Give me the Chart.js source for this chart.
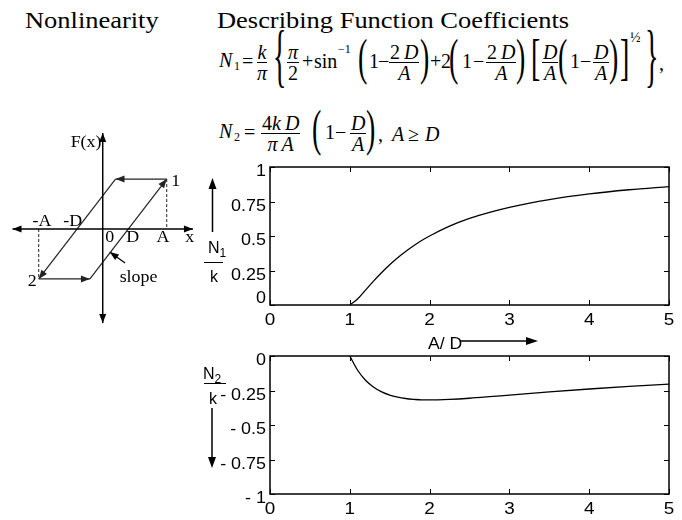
<!DOCTYPE html>
<html>
<head>
<meta charset="utf-8">
<script src="https://cdn.jsdelivr.net/npm/chart.js@4.4.1/dist/chart.umd.min.js"></script>
<style>
  html, body { margin: 0; padding: 0; background: #fff; }
  #page { position: relative; width: 682px; height: 520px; overflow: hidden; font-family: "Liberation Serif", "Times New Roman", serif; color: #000; }
  #page div, #page span { position: absolute; white-space: nowrap; }
  .title { font-size: 23px; line-height: 23px; transform: scaleX(1.15); transform-origin: left top; }
  .t { font-size: 20px; line-height: 20px; }
  .sm { font-size: 12px; line-height: 12px; }
  .f { display: flex; flex-direction: column; align-items: center; font-size: 20px; line-height: 20px; }
  #page .f > span { position: static; padding: 0 1px; }
  #page .f > span:first-child { border-bottom: 1px solid #000; }
  .p { font-size: 28px; line-height: 28px; transform: scaleY(1.8); }
  .b { font-size: 28px; line-height: 28px; transform: scaleY(2.5); }
  .sans { font-family: "Liberation Sans", Arial, sans-serif; font-size: 16px; line-height: 16px; }
  #page .sans span { position: relative; font-size: 12px; top: 4px; }
  .rule { height: 0; border-top: 1px solid #000; }
  canvas { position: absolute; }
</style>
</head>
<body>
<div id="page">
  <div class="title" style="left:25px;top:9px">Nonlinearity</div>
  <div class="title" style="left:217px;top:9px">Describing Function Coefficients</div>

  <!-- N1 row, fraction bar at y = 62 -->
  <span class="t" style="left:219px;top:50px"><i>N</i></span>
  <span class="sm" style="left:234px;top:60px">1</span>
  <span class="t" style="left:242px;top:51px">=</span>
  <div class="f" style="left:256px;top:42px"><span><i>k</i></span><span><i>π</i></span></div>
  <span class="b" style="left:273px;top:42px">{</span>
  <div class="f" style="left:287px;top:42px"><span><i>π</i></span><span>2</span></div>
  <span class="t" style="left:302px;top:51px">+</span>
  <span class="t" style="left:314px;top:51px">sin</span>
  <span class="sm" style="left:338px;top:43px">−1</span>
  <span class="p" style="left:358px;top:44px">(</span>
  <span class="t" style="left:369px;top:51px">1</span>
  <span class="t" style="left:378px;top:51px">−</span>
  <div class="f" style="left:389px;top:42px"><span>2&thinsp;<i>D</i></span><span><i>A</i></span></div>
  <span class="p" style="left:420px;top:44px">)</span>
  <span class="t" style="left:430px;top:51px">+</span>
  <span class="t" style="left:441px;top:51px">2</span>
  <span class="p" style="left:449px;top:44px">(</span>
  <span class="t" style="left:462px;top:51px">1</span>
  <span class="t" style="left:473px;top:51px">−</span>
  <div class="f" style="left:486px;top:42px"><span>2&thinsp;<i>D</i></span><span><i>A</i></span></div>
  <span class="p" style="left:516px;top:44px">)</span>
  <span class="p" style="left:531px;top:44px">[</span>
  <div class="f" style="left:542px;top:42px"><span><i>D</i></span><span><i>A</i></span></div>
  <span class="p" style="left:558px;top:44px">(</span>
  <span class="t" style="left:570px;top:51px">1</span>
  <span class="t" style="left:580px;top:51px">−</span>
  <div class="f" style="left:593px;top:42px"><span><i>D</i></span><span><i>A</i></span></div>
  <span class="p" style="left:609px;top:44px">)</span>
  <span class="p" style="left:620px;top:44px">]</span>
  <span class="sm" style="left:630px;top:32px;font-size:14px">½</span>
  <span class="b" style="left:645px;top:42px">}</span>
  <span class="t" style="left:659px;top:53px">,</span>

  <!-- N2 row, fraction bar at y = 133 -->
  <span class="t" style="left:219px;top:121px"><i>N</i></span>
  <span class="sm" style="left:234px;top:131px">2</span>
  <span class="t" style="left:244px;top:122px">=</span>
  <div class="f" style="left:261px;top:113px"><span>4<i>k</i>&thinsp;<i>D</i></span><span><i>π</i>&thinsp;<i>A</i></span></div>
  <span class="p" style="left:312px;top:115px">(</span>
  <span class="t" style="left:325px;top:122px">1</span>
  <span class="t" style="left:335px;top:122px">−</span>
  <div class="f" style="left:350px;top:113px"><span><i>D</i></span><span><i>A</i></span></div>
  <span class="p" style="left:366px;top:115px">)</span>
  <span class="t" style="left:378px;top:124px">,</span>
  <span class="t" style="left:392px;top:124px"><i>A</i></span>
  <span class="t" style="left:408px;top:124px">≥</span>
  <span class="t" style="left:425px;top:124px"><i>D</i></span>

  <canvas id="loop" width="200" height="220" style="left:0;top:120px;width:200px;height:220px"></canvas>
  <canvas id="top" width="486" height="185" style="left:196px;top:155px;width:486px;height:185px"></canvas>
  <canvas id="bottom" width="486" height="176" style="left:196px;top:344px;width:486px;height:176px"></canvas>

  <div class="sans" style="left:208px;top:240px">N<span>1</span></div>
  <div class="rule" style="left:204px;top:262px;width:19px"></div>
  <div class="sans" style="left:210px;top:269px">k</div>

  <div class="sans" style="left:203px;top:366px">N<span>2</span></div>
  <div class="rule" style="left:204px;top:383px;width:22px"></div>
  <div class="sans" style="left:209px;top:391px">k</div>

  <div class="sans" style="left:428px;top:336px;transform:scaleX(1.1);transform-origin:left top">A/ D</div>

  <svg style="position:absolute;left:0;top:0" width="682" height="520">
    <g stroke="#000" stroke-width="1.5">
      <line x1="212.5" y1="232" x2="212.5" y2="186"/>
      <line x1="212" y1="408" x2="212" y2="460"/>
      <line x1="460" y1="341" x2="528" y2="341"/>
    </g>
    <g fill="#000">
      <path d="M212.5 178 L208.5 189 L216.5 189 Z"/>
      <path d="M212 468 L208 457 L216 457 Z"/>
      <path d="M538 341 L526 337 L526 345 Z"/>
    </g>
  </svg>
</div>

<script>
// A/D ratio samples and normalised describing function coefficients
const ratio = [1, 1.1, 1.2, 1.3, 1.4, 1.5, 1.6, 1.7, 1.8, 1.9, 2, 2.25, 2.5, 2.75, 3, 3.5, 4, 4.5, 5];
const n1 = [0, 0.045, 0.11, 0.175, 0.236, 0.292, 0.343, 0.388, 0.429, 0.467, 0.5, 0.571, 0.627, 0.671, 0.708, 0.764, 0.805, 0.835, 0.858];
const n2 = [0, -0.105, -0.177, -0.226, -0.26, -0.283, -0.298, -0.308, -0.314, -0.318, -0.318, -0.314, -0.306, -0.295, -0.283, -0.26, -0.239, -0.22, -0.204];

const xTicks = [0, 1, 2, 3, 4, 5];
const xLabels = ['0', '1', '2', '3', '4', '5'];
const n1Ticks = [0, 0.25, 0.5, 0.75, 1];
const n1Labels = ['0', '0.25', '0.5', '0.75', '1'];
const n2Ticks = [-1, -0.75, -0.5, -0.25, 0];
const n2Labels = ['- 1', '- 0.75', '- 0.5', '- 0.25', '0'];

// hysteresis loop of the nonlinearity (x in units of A)
const loopTop = [{ x: 1, y: 0.78 }, { x: 0.2, y: 0.78 }];
const loopDown = [{ x: 0.2, y: 0.78 }, { x: -1, y: -0.78 }];
const loopBottom = [{ x: -1, y: -0.78 }, { x: -0.2, y: -0.78 }];
const loopUp = [{ x: -0.2, y: -0.78 }, { x: 1, y: 0.78 }];
const dropA = [{ x: 1, y: 0.78 }, { x: 1, y: 0 }];
const dropMinusA = [{ x: -1, y: 0 }, { x: -1, y: -0.78 }];
const slopePointer = [{ x: 0.35, y: -0.53 }, { x: 0.11, y: -0.36 }];
const xAxisLine = [{ x: -1.41, y: 0 }, { x: 1.41, y: 0 }];
const fAxisLine = [{ x: 0, y: -1.47 }, { x: 0, y: 1.5 }];

Chart.defaults.font.family = '"Liberation Sans", Arial, sans-serif';
Chart.defaults.color = '#000';

// the original artwork is a little wider than tall, so text is stretched sideways
function wideText(ctx, text, x, y, align, sx) {
  ctx.save();
  ctx.translate(x, y);
  ctx.scale(sx, 1);
  ctx.textAlign = align;
  ctx.fillText(text, 0, 0);
  ctx.restore();
}

function arrowHead(ctx, x0, y0, x1, y1, len, half) {
  const a = Math.atan2(y1 - y0, x1 - x0);
  const bx = x1 - len * Math.cos(a), by = y1 - len * Math.sin(a);
  ctx.beginPath();
  ctx.moveTo(x1, y1);
  ctx.lineTo(bx + half * Math.sin(a), by - half * Math.cos(a));
  ctx.lineTo(bx - half * Math.sin(a), by + half * Math.cos(a));
  ctx.closePath();
  ctx.fill();
}

const arrows = {
  id: 'arrows',
  afterDatasetsDraw(chart) {
    const ctx = chart.ctx;
    ctx.save();
    chart.data.datasets.forEach((ds, i) => {
      if (!ds.arrow) return;
      const pts = chart.getDatasetMeta(i).data;
      const p0 = pts[0], p1 = pts[pts.length - 1];
      ctx.fillStyle = ds.borderColor;
      arrowHead(ctx, p0.x, p0.y, p1.x, p1.y, 9, 3.5);
      if (ds.arrow === 'both') arrowHead(ctx, p1.x, p1.y, p0.x, p0.y, 9, 3.5);
    });
    const { x, y } = chart.scales;
    ctx.fillStyle = '#000';
    ctx.font = '16px "Liberation Serif", "Times New Roman", serif';
    ctx.textBaseline = 'middle';
    [['F(x)', -0.26, 1.34], ['1', 1.14, 0.74], ['2', -1.1, -0.83], ['-A', -0.95, 0.11], ['-D', -0.47, 0.11],
     ['0', 0.11, -0.14], ['D', 0.47, -0.14], ['A', 0.94, -0.14], ['x', 1.36, -0.14], ['slope', 0.56, -0.77]]
      .forEach(([t, vx, vy]) => wideText(ctx, t, x.getPixelForValue(vx), y.getPixelForValue(vy), 'center', 1.12));
    ctx.restore();
  }
};

const seg = (data, extra) => Object.assign({ data, showLine: true, pointRadius: 0, borderColor: '#222', borderWidth: 1.2 }, extra);

new Chart(document.getElementById('loop'), {
  type: 'scatter',
  data: {
    datasets: [
      seg(xAxisLine, { arrow: 'both', borderColor: '#000', borderWidth: 1.5 }),
      seg(fAxisLine, { arrow: 'both', borderColor: '#000', borderWidth: 1.5 }),
      seg(loopTop, { arrow: 'end' }),
      seg(loopDown, { arrow: 'end' }),
      seg(loopBottom, { arrow: 'end' }),
      seg(loopUp, { arrow: 'end' }),
      seg(dropA, { borderDash: [3, 2], borderWidth: 1 }),
      seg(dropMinusA, { borderDash: [3, 2], borderWidth: 1 }),
      seg(slopePointer, { arrow: 'end', borderColor: '#000' })
    ]
  },
  options: {
    responsive: false,
    animation: false,
    clip: false,
    layout: { padding: 0 },
    plugins: { legend: { display: false }, tooltip: { enabled: false } },
    scales: {
      x: { display: false, min: -1.605, max: 1.52 },
      y: { display: false, min: -1.734, max: 1.703 }
    }
  },
  plugins: [arrows]
});

// closed box, inward tick marks and the tick labels, like the original plot
const boxTicks = {
  id: 'boxTicks',
  afterDatasetsDraw(chart, args, opts) {
    const { ctx, chartArea: a, scales: { x, y } } = chart;
    ctx.save();
    ctx.strokeStyle = '#000';
    ctx.lineWidth = 1.5;
    ctx.strokeRect(a.left, a.top, a.right - a.left, a.bottom - a.top);
    ctx.lineWidth = 1;
    ctx.beginPath();
    x.ticks.forEach(t => {
      const px = Math.round(x.getPixelForValue(t.value)) + 0.5;
      ctx.moveTo(px, a.bottom); ctx.lineTo(px, a.bottom - 5);
      ctx.moveTo(px, a.top); ctx.lineTo(px, a.top + 5);
    });
    y.ticks.forEach(t => {
      const py = Math.round(y.getPixelForValue(t.value)) + 0.5;
      ctx.moveTo(a.left, py); ctx.lineTo(a.left + 5, py);
      ctx.moveTo(a.right, py); ctx.lineTo(a.right - 5, py);
    });
    ctx.stroke();

    ctx.fillStyle = '#000';
    ctx.font = '16px "Liberation Sans", Arial, sans-serif';
    ctx.textBaseline = 'middle';
    x.ticks.forEach((t, i) => wideText(ctx, opts.xLabels[i], x.getPixelForValue(t.value), a.bottom + 15.5, 'center', 1.18));
    y.ticks.forEach((t, i) => {
      const shift = (i === 0 && opts.raiseFirst) ? -6 : 5;
      wideText(ctx, opts.yLabels[i], a.left - 4, y.getPixelForValue(t.value) + shift, 'right', 1.12);
    });
    ctx.restore();
  }
};

function makePlot(id, values, yTicks, yLabels, xAxisHeight, raiseFirst) {
  return new Chart(document.getElementById(id), {
    type: 'scatter',
    data: {
      datasets: [{
        data: ratio.map((r, i) => ({ x: r, y: values[i] })),
        showLine: true,
        borderColor: '#000',
        borderWidth: 1.3,
        pointRadius: 0,
        cubicInterpolationMode: 'monotone'
      }]
    },
    options: {
      responsive: false,
      animation: false,
      layout: { padding: { top: 12, right: 13, left: 0, bottom: 0 } },
      plugins: {
        legend: { display: false },
        tooltip: { enabled: false },
        boxTicks: { xLabels, yLabels, raiseFirst }
      },
      scales: {
        x: {
          type: 'linear', min: 0, max: 5,
          afterBuildTicks: s => { s.ticks = xTicks.map(v => ({ value: v })); },
          afterFit: s => { s.height = xAxisHeight; },
          ticks: { display: false },
          grid: { display: false, drawTicks: false },
          border: { display: false }
        },
        y: {
          type: 'linear', min: yTicks[0], max: yTicks[yTicks.length - 1],
          afterBuildTicks: s => { s.ticks = yTicks.map(v => ({ value: v })); },
          afterFit: s => { s.width = 74; },
          ticks: { display: false },
          grid: { display: false, drawTicks: false },
          border: { display: false }
        }
      }
    },
    plugins: [boxTicks]
  });
}

makePlot('top', n1, n1Ticks, n1Labels, 35, true);
makePlot('bottom', n2, n2Ticks, n2Labels, 26, false);
</script>
</body>
</html>
